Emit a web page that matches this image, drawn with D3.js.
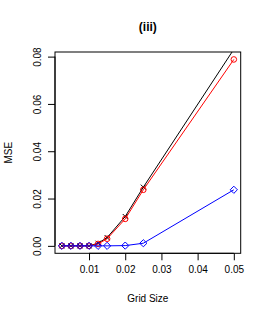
<!DOCTYPE html>
<html lang="en">
<head>
<meta charset="UTF-8">
<title>MSE vs grid size</title>
<script src="https://cdn.jsdelivr.net/npm/d3@7/dist/d3.min.js"></script>
<style>
  body { margin: 0; background: #fff; }
  text { font-family: "Liberation Sans", Arial, sans-serif; }
</style>
</head>
<body>
<script>
// grid sizes and MSE per method
var gridSize = [0.0025, 0.005, 0.0075, 0.01, 0.0125, 0.015, 0.02, 0.025, 0.05];
var mseBlack = [0, 0, 0, 0, 0.0011, 0.0035, 0.0124, 0.0248, 0.0831];
var mseRed   = [0, 0, 0, 0, 0.0008, 0.0030, 0.0114, 0.0237, 0.0788];
var mseBlue  = [0, 0, 0, 0, 0.0000, 0.0000, 0.0001, 0.0011, 0.0237];
var xTicks = [0.01, 0.02, 0.03, 0.04, 0.05];
var yTicks = [0, 0.02, 0.04, 0.06, 0.08];

var w = 269, h = 319;
// plot region (window.top is reserved, so use other names)
var pL = 55, pR = 240.7, pT = 52, pB = 253.3;

var svg = d3.select("body").append("svg")
    .attr("width", w)
    .attr("height", h);

// R style 4% padding around data range
var xr = d3.extent(gridSize), xp = (xr[1] - xr[0]) * 0.04;
var yMax = d3.max(mseRed), yp = yMax * 0.04;

var x = d3.scaleLinear().domain([xr[0] - xp, xr[1] + xp]).range([pL, pR]);
var y = d3.scaleLinear().domain([-yp, yMax + yp]).range([pB, pT]);

svg.append("defs").append("clipPath").attr("id", "plotclip")
    .append("rect")
    .attr("x", pL).attr("y", pT)
    .attr("width", pR - pL).attr("height", pB - pT);

var series = [
    { vals: mseBlack, color: "#000000", pch: "cross" },
    { vals: mseRed, color: "#ff0000", pch: "circle" },
    { vals: mseBlue, color: "#0000ff", pch: "diamond" }
];

var line = d3.line()
    .x(function(d) { return x(d[0]); })
    .y(function(d) { return y(d[1]); });

var plot = svg.append("g").attr("clip-path", "url(#plotclip)");

series.forEach(function(s) {
    var pts = gridSize.map(function(g, i) { return [g, s.vals[i]]; });
    var g = plot.append("g");
    g.append("path")
        .attr("d", line(pts))
        .attr("fill", "none")
        .attr("stroke", s.color)
        .attr("stroke-width", 1);

    var m = g.selectAll(".pt").data(pts).enter();
    if (s.pch == "circle") {
        m.append("circle")
            .attr("cx", function(d) { return x(d[0]); })
            .attr("cy", function(d) { return y(d[1]); })
            .attr("r", 2.8)
            .attr("fill", "none")
            .attr("stroke", s.color);
    } else if (s.pch == "diamond") {
        m.append("path")
            .attr("d", function(d) {
                var cx = x(d[0]), cy = y(d[1]), r = 3.6;
                return "M" + cx + "," + (cy - r) + "L" + (cx + r) + "," + cy +
                    "L" + cx + "," + (cy + r) + "L" + (cx - r) + "," + cy + "Z";
            })
            .attr("fill", "none")
            .attr("stroke", s.color);
    } else {
        m.append("path")
            .attr("d", function(d) {
                var cx = x(d[0]), cy = y(d[1]), r = 2.5;
                return "M" + (cx - r) + "," + (cy - r) + "L" + (cx + r) + "," + (cy + r) +
                    "M" + (cx - r) + "," + (cy + r) + "L" + (cx + r) + "," + (cy - r);
            })
            .attr("fill", "none")
            .attr("stroke", s.color);
    }
});

// box
svg.append("rect")
    .attr("x", pL).attr("y", pT)
    .attr("width", pR - pL).attr("height", pB - pT)
    .attr("fill", "none")
    .attr("stroke", "#000")
    .attr("stroke-width", 1);

// axes
var xAxis = d3.axisBottom(x).tickValues(xTicks).tickSize(7).tickPadding(6)
    .tickFormat(d3.format(".2f"));
var gx = svg.append("g").attr("transform", "translate(0," + pB + ")").call(xAxis);
gx.select(".domain").attr("d", "M" + x(xTicks[0]) + ",0H" + x(xTicks[xTicks.length - 1]));
gx.selectAll("text").attr("font-size", 10).attr("font-family", "Liberation Sans, Arial, sans-serif").attr("fill", "#000");

var yAxis = d3.axisLeft(y).tickValues(yTicks).tickSize(7).tickPadding(4)
    .tickFormat(d3.format(".2f"));
var gy = svg.append("g").attr("transform", "translate(" + pL + ",0)").call(yAxis);
gy.select(".domain").attr("d", "M0," + y(yTicks[0]) + "V" + y(yTicks[yTicks.length - 1]));
gy.selectAll("text")
    .attr("font-size", 10)
    .attr("font-family", "Liberation Sans, Arial, sans-serif")
    .attr("fill", "#000")
    .attr("text-anchor", "middle")
    .attr("dy", null)
    .attr("x", null)
    .attr("transform", "translate(-18,0) rotate(-90)")
    .attr("dominant-baseline", "central");

// labels
svg.append("text")
    .attr("x", (pL + pR) / 2).attr("y", 31)
    .attr("text-anchor", "middle")
    .attr("font-size", 12).attr("font-weight", "bold")
    .text("(iii)");

svg.append("text")
    .attr("x", (pL + pR) / 2).attr("y", 302)
    .attr("text-anchor", "middle")
    .attr("font-size", 10)
    .text("Grid Size");

svg.append("text")
    .attr("transform", "translate(12," + ((pT + pB) / 2) + ") rotate(-90)")
    .attr("text-anchor", "middle")
    .attr("font-size", 10)
    .text("MSE");
</script>
</body>
</html>
